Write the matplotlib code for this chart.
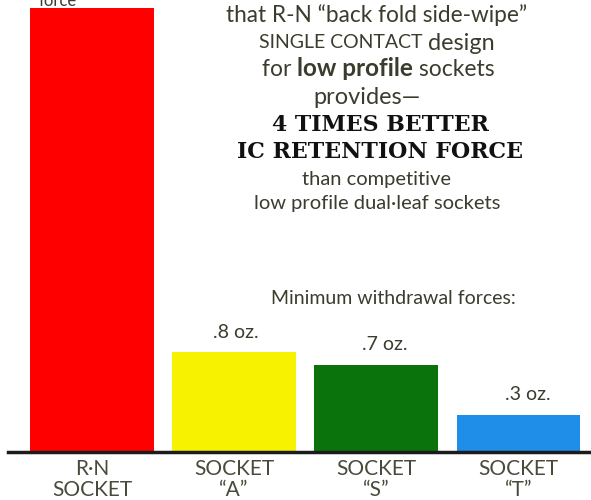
import matplotlib.pyplot as plt

# %% data
sockets = ['R·N\nSOCKET', 'SOCKET\n“A”', 'SOCKET\n“S”', 'SOCKET\n“T”']
force_oz = [3.55, 0.8, 0.7, 0.3]
value_labels = ['', '.8 oz.', '.7 oz.', '.3 oz.']
bar_colors = ['#ff0000', '#f6f200', '#0b730b', '#1f8ee8']

ink = '#3b3b2e'

fig = plt.figure(figsize=(5.91, 5.0), dpi=100)
ax = fig.add_axes([8/591, 48/500, 583/591, 452/500])

x = range(len(force_oz))
ax.bar(x, force_oz, width=0.87, color=bar_colors, zorder=2)
ax.set_xlim(-0.59, 3.51)
ax.set_ylim(0, 3.616)

for sp in ['top', 'right', 'left']:
    ax.spines[sp].set_visible(False)
ax.spines['bottom'].set_color('#1c1c1c')
ax.spines['bottom'].set_linewidth(2.5)
ax.set_yticks([])
ax.set_xticks(list(x))
ax.set_xticklabels(sockets, fontsize=15, color='#4a4a3c', linespacing=1.05,
                   family='Lato')
ax.tick_params(axis='x', length=0, pad=5)

label_dx = [0, 1, 6, 7]
for i, (v, lab) in enumerate(zip(force_oz, value_labels)):
    if lab:
        ax.annotate(lab, (i, v), xytext=(label_dx[i], 8),
                    textcoords='offset points', ha='center', va='bottom',
                    fontsize=14, color=ink, family='Lato')

# "force" label cut off at the top of the red bar
fig.text(58/591, 1 - 1/500, 'force', ha='center', va='center', fontsize=12,
         color=ink, family='Lato')

fig.canvas.draw()
renderer = fig.canvas.get_renderer()


def mixed_line(yc, pieces, xc=377, color=ink):
    # pieces: (text, size, weight, family)
    texts = []
    for s, size, weight, fam in pieces:
        t = fig.text(0, yc, s, fontsize=size, fontweight=weight, family=fam,
                     color=color, va='center', ha='left',
                     transform=None)
        texts.append(t)
    widths = [t.get_window_extent(renderer).width for t in texts]
    total = sum(widths)
    xpos = xc - total / 2
    for t, w in zip(texts, widths):
        t.set_position((xpos, yc))
        xpos += w


H = 500
mixed_line(H - 15, [('that R-N “back fold side-wipe”', 16.3, 'normal', 'Lato')])
mixed_line(H - 43, [('SINGLE CONTACT ', 14, 'normal', 'Lato'),
                    ('design', 16.8, 'normal', 'Lato')])
mixed_line(H - 69, [('for ', 16.5, 'normal', 'Lato'),
                    ('low profile', 17.5, 'bold', 'Lato'),
                    (' sockets', 16.5, 'normal', 'Lato')], xc=378)
mixed_line(H - 97, [('provides—', 16.9, 'normal', 'Lato')], xc=367)
mixed_line(H - 125, [('4 TIMES BETTER', 15.8, 'heavy', 'DejaVu Serif')],
           xc=380, color='#111111')
mixed_line(H - 152, [('IC RETENTION FORCE', 15.9, 'heavy', 'DejaVu Serif')],
           xc=380, color='#111111')
mixed_line(H - 180, [('than competitive', 14.5, 'normal', 'Lato')])
mixed_line(H - 203, [('low profile dual·leaf sockets', 14.5, 'normal', 'Lato')])
mixed_line(H - 298, [('Minimum withdrawal forces:', 14, 'normal', 'Lato')],
           xc=393)

plt.savefig('out.png', dpi=100)
